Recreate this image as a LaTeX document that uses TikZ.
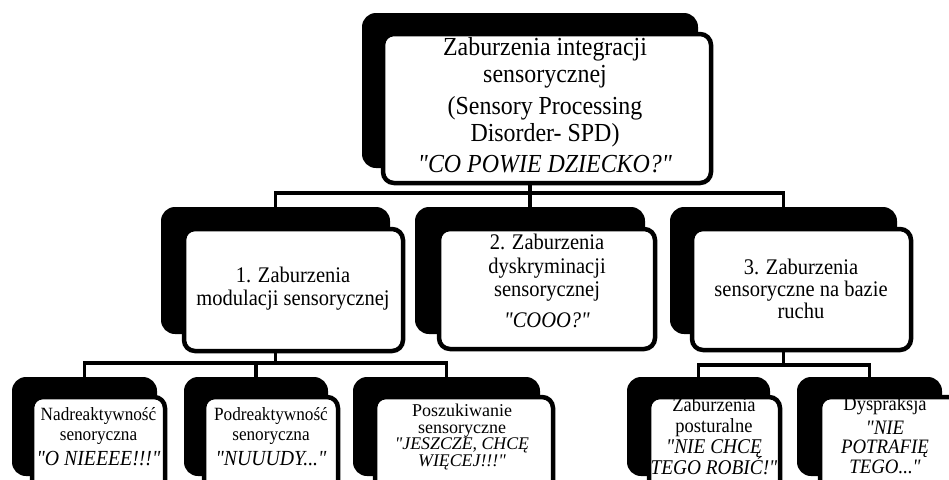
\documentclass[tikz,border=0pt]{standalone}
\usepackage{fontspec}
\setmainfont{Liberation Serif}[Ligatures=TeXOff, FakeStretch=0.92]
\newfontfamily\plainserif{Liberation Serif}[Ligatures=TeXOff]
\usetikzlibrary{backgrounds}
\setlength{\lineskiplimit}{-30pt}
\tikzset{
  back/.style={shape=rectangle, fill=black, rounded corners=14pt, inner sep=0pt},
  front/.style={shape=rectangle, fill=white, draw=black, line width=4.5pt, rounded corners=11pt, inner sep=0pt},
  conn/.style={draw=black, line width=3.5pt},
  lbl/.style={align=center, inner sep=0pt, text=black},
}
\newcommand\quoteit[2]{{\fontsize{#1}{#1}\selectfont\itshape #2}}
\begin{document}
\begin{tikzpicture}[x=1pt,y=-1pt]
\useasboundingbox (0,0) rectangle (949,479);
% level 1
\node[back, minimum width=336, minimum height=155] (t0b) at (530,90.5) {};
\node[front, minimum width=328, minimum height=149] (t0) at (547,108.5) {};
% level 2
\node[back, minimum width=229, minimum height=127] (b1b) at (275.5,270.5) {};
\node[front, minimum width=219, minimum height=122] (b1) at (293.5,290) {};
\node[back, minimum width=230, minimum height=127] (b2b) at (530,270.5) {};
\node[front, minimum width=216, minimum height=120] (b2) at (547,289) {};
\node[back, minimum width=227, minimum height=127] (b3b) at (783.5,270.5) {};
\node[front, minimum width=219, minimum height=121] (b3) at (801.5,289.5) {};
% level 3
\node[back, minimum width=145, minimum height=99] (c1b) at (84.5,426.5) {};
\node[front, minimum width=133, minimum height=96] (c1) at (98.5,445) {};
\node[back, minimum width=144, minimum height=99] (c2b) at (256,426.5) {};
\node[front, minimum width=134, minimum height=96] (c2) at (271,445) {};
\node[back, minimum width=187, minimum height=99] (c3b) at (446.5,426.5) {};
\node[front, minimum width=178, minimum height=96] (c3) at (464,445) {};
\node[back, minimum width=143, minimum height=99] (c4b) at (698.5,426.5) {};
\node[front, minimum width=131, minimum height=96] (c4) at (714.5,445) {};
\node[back, minimum width=145, minimum height=99] (c5b) at (869.5,426.5) {};
\node[front, minimum width=140, minimum height=96] (c5) at (890,445) {};
% texts
\node[lbl, font={\fontsize{26}{27}\selectfont}] (t0txt) at (545,105)
  {Zaburzenia integracji\\ sensorycznej\\[5pt] (Sensory Processing\\ Disorder- SPD)\\[4pt] \textit{"CO POWIE DZIECKO?"}};
\node[lbl, font={\fontsize{22.3}{23}\selectfont}] (b1txt) at (293,288.5)
  {1. Zaburzenia\\ modulacji sensorycznej};
\node[lbl, font={\fontsize{22.3}{23.5}\selectfont}] (b2txt) at (547,281)
  {2. Zaburzenia\\ dyskryminacji\\ sensorycznej\\[7pt] \textit{"COOO?"}};
\node[lbl, font={\fontsize{22.3}{22}\selectfont}] (b3txt) at (801,289)
  {3. Zaburzenia\\ sensoryczne na bazie\\ ruchu};
\node[lbl, font={\fontsize{18.7}{20}\selectfont}] (c1txt) at (98.5,437)
  {Nadreaktywność\\ senoryczna\\[5pt] \quoteit{21.5}{"O NIEEEE!!!"}};
\node[lbl, font={\fontsize{18.7}{20}\selectfont}] (c2txt) at (271,437)
  {Podreaktywność\\ senoryczna\\[5pt] \quoteit{21.5}{"NUUUDY..."}};
\node[lbl, font={\plainserif\fontsize{18}{16.9}\selectfont}] (c3txt) at (462,437)
  {Poszukiwanie\\ sensoryczne\\ \quoteit{17.8}{"JESZCZE, CHCĘ}\\ \quoteit{17.8}{WIĘCEJ!!!"}};
\node[lbl, font={\fontsize{20.1}{21}\selectfont}] (c4txt) at (714,436)
  {Zaburzenia\\ posturalne\\ \quoteit{21}{"NIE CHCĘ}\\ \quoteit{21}{TEGO ROBIĆ!"}};
\node[lbl, font={\fontsize{20.1}{19.5}\selectfont}] (c5txt) at (885,435)
  {Dyspraksja\\[4pt] \quoteit{20.5}{"NIE}\\ \quoteit{20.5}{POTRAFIĘ}\\ \quoteit{20.5}{TEGO..."}};
% connectors
\coordinate (bus1) at (0,193);
\coordinate (bus2) at (0,363);
\coordinate (bus3) at (0,365);
\begin{scope}[on background layer]
\draw[conn] (t0b.center) -- (t0b.center |- bus1) -| (b1b.north);
\draw[conn] (t0b.center |- bus1) -| (b3b.north);
\draw[conn] (t0b.center) -- (b2b.north);
\draw[conn] (b1b.center) -- (b1b.center |- bus2) -| (c1b.north);
\draw[conn] (b1b.center |- bus2) -| (c3b.north);
\draw[conn] (b1b.center |- bus2) -| (c2b.north);
\draw[conn] (b3b.center) -- (b3b.center |- bus3) -| (c4b.north);
\draw[conn] (b3b.center |- bus3) -| (c5b.north);
\end{scope}
\end{tikzpicture}
\end{document}
